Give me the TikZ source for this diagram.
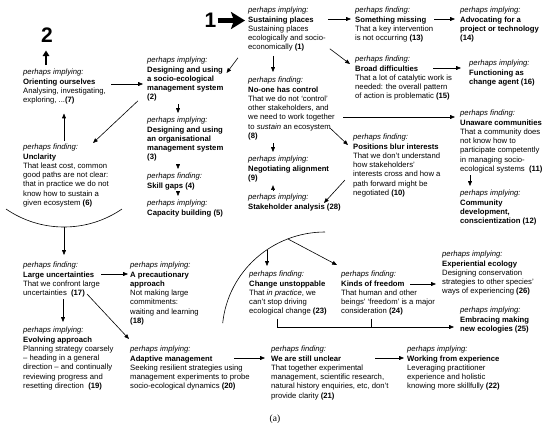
\documentclass[tikz,border=0pt]{standalone}
\usepackage{fontspec}
\setmainfont{Liberation Sans}
\newfontfamily\serifa{Liberation Serif}
\usetikzlibrary{arrows.meta,calc}
\newcommand{\pimp}{\textit{perhaps implying:}}
\newcommand{\pfind}{\textit{perhaps finding:}}
\begin{document}
\begin{tikzpicture}[x=1pt,y=-1pt,
  blk/.style={anchor=north west, align=left, inner sep=0pt, font=\fontsize{7.7}{9.3}\selectfont},
  arr/.style={-{Triangle[length=4.8pt,width=3.8pt]}, line width=0.6pt},
  ln/.style={line width=0.6pt},
  bigup/.style={-{Triangle[length=5.5pt,width=6.5pt]}, line width=1.6pt},
  bigarr/.style={-{Stealth[length=14pt,width=17pt,inset=3pt]}, line width=5pt},
  bignum/.style={inner sep=0pt, font=\fontsize{21}{21}\selectfont\bfseries}]
\useasboundingbox (0,0) rectangle (550,434);

\node[bignum] (one) at (210.5,20.5) {1};
\node[bignum] (two) at (47,35) {2};

\node[blk] (b1) at (248,7) {\pimp\\\textbf{Sustaining places}\\Sustaining places\\ecologically and socio-\\economically \textbf{(1)}};
\node[blk] (b13) at (355,7) {\pfind\\\textbf{Something missing}\\That a key intervention\\is not occurring \textbf{(13)}};
\node[blk] (b14) at (460,7) {\pimp\\\textbf{Advocating for a}\\\textbf{project or technology}\\\textbf{(14)}};
\node[blk] (b15) at (355,56) {\pfind\\\textbf{Broad difficulties}\\That a lot of catalytic work is\\needed: the overall pattern\\of action is problematic \textbf{(15)}};
\node[blk] (b16) at (469,60) {\pimp\\\textbf{Functioning as}\\\textbf{change agent (16)}};
\node[blk] (b2) at (147,57) {\pimp\\\textbf{Designing and using}\\\textbf{a socio-ecological}\\\textbf{management system}\\\textbf{(2)}};
\node[blk] (b7) at (23,69) {\pimp\\\textbf{Orienting ourselves}\\Analysing, investigating,\\exploring, ...\textbf{(7)}};
\node[blk] (b8) at (248,77) {\pfind\\\textbf{No-one has control}\\That we do not ‘control’\\other stakeholders, and\\we need to work together\\to \textit{sustain} an ecosystem\\\textbf{(8)}};
\node[blk] (b3) at (147,117) {\pimp\\\textbf{Designing and using}\\\textbf{an organisational}\\\textbf{management system}\\\textbf{(3)}};
\node[blk] (b4) at (147,173) {\pfind\\\textbf{Skill gaps (4)}};
\node[blk] (b5) at (147,200) {\pimp\\\textbf{Capacity building (5)}};
\node[blk] (b6) at (23,144) {\pfind\\\textbf{Unclarity}\\That least cost, common\\good paths are not clear:\\that in practice we do not\\know how to sustain a\\given ecosystem \textbf{(6)}};
\node[blk] (b9) at (248,156) {\pimp\\\textbf{Negotiating alignment}\\\textbf{(9)}};
\node[blk] (b28) at (248,194) {\pimp\\\textbf{Stakeholder analysis (28)}};
\node[blk] (b10) at (353,134) {\pfind\\\textbf{Positions blur interests}\\That we don’t understand\\how stakeholders’\\interests cross and how a\\path forward might be\\negotiated \textbf{(10)}};
\node[blk] (b11) at (460,110) {\pfind\\\textbf{Unaware communities}\\That a community does\\not know how to\\participate competently\\in managing socio-\\ecological systems\ \ \textbf{(11)}};
\node[blk] (b12) at (460,190) {\pimp\\\textbf{Community}\\\textbf{development,}\\\textbf{conscientization (12)}};
\node[blk] (b17) at (23,262) {\pfind\\\textbf{Large uncertainties}\\That we confront large\\uncertainties\ \ \textbf{(17)}};
\node[blk] (b18) at (130,262) {\pimp\\\textbf{A precautionary}\\\textbf{approach}\\Not making large\\commitments:\\waiting and learning\\\textbf{(18)}};
\node[blk] (b19) at (23,327) {\pimp\\\textbf{Evolving approach}\\Planning strategy coarsely\\– heading in a general\\direction – and continually\\reviewing progress and\\resetting direction\ \ \textbf{(19)}};
\node[blk] (b20) at (130,346) {\pimp\\\textbf{Adaptive management}\\Seeking resilient strategies using\\management experiments to probe\\socio-ecological dynamics \textbf{(20)}};
\node[blk] (b21) at (271,346) {\pfind\\\textbf{We are still unclear}\\That together experimental\\management, scientific research,\\natural history enquiries, etc, don’t\\provide clarity \textbf{(21)}};
\node[blk] (b22) at (407,346) {\pimp\\\textbf{Working from experience}\\Leveraging practitioner\\experience and holistic\\knowing more skillfully \textbf{(22)}};
\node[blk] (b23) at (249,271) {\pfind\\\textbf{Change unstoppable}\\That \textit{in practice}, we\\can’t stop driving\\ecological change \textbf{(23)}};
\node[blk] (b24) at (341,271) {\pfind\\\textbf{Kinds of freedom}\\That human and other\\beings’ ‘freedom’ is a major\\consideration \textbf{(24)}};
\node[blk] (b26) at (442,251) {\pimp\\\textbf{Experiential ecology}\\Designing conservation\\strategies to other species’\\ways of experiencing \textbf{(26)}};
\node[blk] (b25) at (460,307) {\pimp\\\textbf{Embracing making}\\\textbf{new ecologies (25)}};
\node[inner sep=0pt, font=\serifa\fontsize{9.5}{11}\selectfont] (cap) at (275,419) {(a)};

% big arrows
\draw[bigarr] ($(one.east)+(1,0)$) -- ($(one.east -| b1.west)+(-3,0)$);
\draw[bigup] ($(b7.north west)+(23,-4)$) -- ($(two.south)+(-1,8)$);

% top part
\draw[arr] ($(b1.north east)+(2,12)$) -- ($(b13.north west)+(-4,12)$);
\draw[arr] ($(b13.north east)+(1,12)$) -- ($(b14.north west)+(-5,12)$);
\draw[arr] ($(b1.south east)+(4,-3)$) -- ($(b15.north west)+(-5,8)$);
\draw[arr] ($(b15.north west)+(78,12)$) -- ($(b16.north west)+(-8,8)$);
\draw[arr] ($(b1.south west)+(-10,6)$) -- ($(b2.north east)+(3,16)$);
\draw[arr] ($(b1.south west)+(25,4)$) -- ($(b8.north west)+(25,-5)$);
\draw[arr] ($(b7.north east)+(5,15)$) -- ($(b2.north west)+(-4,27)$);
\draw[arr] ($(b2.south west)+(31,2)$) -- ($(b3.north west)+(31,-4)$);
\draw[arr] ($(b2.south west)+(-9,-1)$) -- ($(b6.north west)+(70,-1)$);
\draw[arr] ($(b3.south west)+(31,2)$) -- ($(b4.north west)+(31,-4)$);
\draw[arr] ($(b4.south west)+(31,2)$) -- ($(b5.north west)+(31,-4)$);
\draw[arr] ($(b6.north west)+(41,-3)$) -- ($(b7.south west)+(41,9)$);
\draw[arr] ($(b8.south west)+(25,3)$) -- ($(b9.north west)+(25,-4)$);
\draw[arr] ($(b28.north west)+(25,-3)$) -- ($(b9.south west)+(25,3)$);
\draw[arr] ($(b8.north west)+(95,40)$) -- ($(b11.north west)+(-5,7)$);
\draw[arr] ($(b8.north west)+(82,51)$) -- ($(b10.north west)+(-5,11)$);
\draw[arr] ($(b10.north west)+(-8,46)$) -- ($(b28.north west)+(76,9)$);
\draw[arr] ($(b11.south west)+(10,2)$) -- ($(b12.north west)+(10,-4)$);

% left arc under Unclarity
\draw[ln] (6,209) .. controls (41,233) and (87,233) .. (122,209);
\coordinate (arcbot) at (64,227);
\draw[arr] (arcbot) -- ($(b17.north west)+(41,-7)$);

% bottom-left part
\draw[arr] ($(b17.north west)+(78,12)$) -- ($(b18.north west)+(-2,12)$);
\draw[arr] ($(b17.south west)+(40,2)$) -- ($(b19.north west)+(40,-5)$);
\draw[arr] ($(b17.north west)+(64,32)$) -- ($(b20.north west)+(-1,-7)$);
\draw[arr] ($(b20.north west)+(104,12)$) -- ($(b21.north west)+(-6,12)$);
\draw[arr] ($(b21.north west)+(104,12)$) -- ($(b22.north west)+(-3,12)$);

% middle arc
\draw[ln] (222.7,323.2) .. controls (228,271.1) and (272.7,232) .. (325,232);
\coordinate (m1) at (267,250);
\coordinate (m2) at (288,239);
\draw[arr] (m1) -- ($(b23.north west)+(18,-5)$);
\draw[arr] (m2) -- ($(b24.north west)+(-4,-6)$);
\draw[arr] ($(b24.north west)+(69,13)$) -- ($(b26.north west)+(-6,33)$);
\coordinate (j23) at ($(b23.south west)+(28,3)$);
\coordinate (j24) at ($(b24.south west)+(30,3)$);
\coordinate (t25) at ($(b25.north west)+(-6,20)$);
\draw[arr] (j23) |- (t25);
\draw[ln] (j24) -- (j24 |- t25);
\end{tikzpicture}
\end{document}
